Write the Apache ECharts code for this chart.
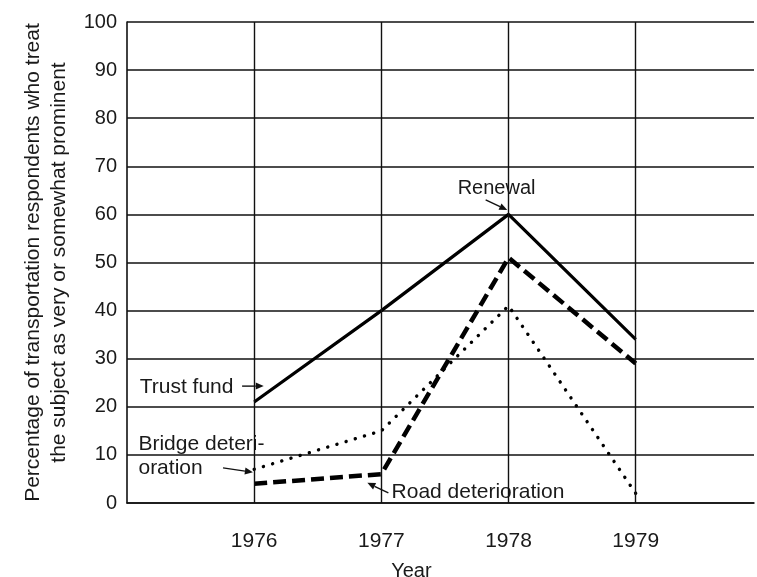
<!DOCTYPE html>
<html><head><meta charset="utf-8">
<script src="https://cdn.jsdelivr.net/npm/echarts@6/dist/echarts.min.js"></script>
<style>html,body{margin:0;padding:0;background:#fff;overflow:hidden}#c{width:757px;height:577px}</style>
</head><body><div id="c"></div>
<script>
// ---- data ----
const years = [1976, 1977, 1978, 1979];
const trustFund = [21, 40, 60, 34];
const roadDeterioration = [4, 6, 51, 29];
const bridgeDeterioration = [7, 15, 41, 2];
const yAxisTitle = ['Percentage of transportation respondents who treat', 'the subject as very or somewhat prominent'];
const xAxisTitle = 'Year';
// annotation texts anchored in data space: [text, x(year), y(value), fontSize]
const annoTexts = [
  ['Trust fund', 1975.10, 24.1, 21],
  ['Bridge deteri-\noration', 1975.09, 9.8, 21],
  ['Renewal', 1977.60, 65.3, 20],
  ['Road deterioration', 1977.08, 2.2, 21]
];
// arrows: [fromX, fromY, toX, toY] in data space
const annoArrows = [
  [1975.905, 24.3, 1976.075, 24.3],
  [1975.755, 7.3, 1975.99, 6.4],
  [1977.82, 63.0, 1977.99, 60.9],
  [1977.055, 2.1, 1976.89, 4.2]
];

const FONT = 'Liberation Sans, Arial, sans-serif';
const TXT = '#1a1a1a';
const chart = echarts.init(document.getElementById('c'), null, {renderer: 'canvas', width: 757, height: 577});
const pair = arr => years.map((y, i) => [y, arr[i]]);

chart.setOption({
  animation: false,
  backgroundColor: '#fff',
  grid: {left: 127, top: 22, bottom: 74, right: 0},
  xAxis: {
    type: 'value', min: 1975, max: 1979.93, interval: 1,
    axisLine: {show: true, lineStyle: {color: '#111', width: 1.6}},
    axisTick: {show: false},
    splitLine: {show: false},
    axisLabel: {
      margin: 28, fontSize: 21, color: TXT, fontFamily: FONT,
      formatter: v => years.indexOf(v) >= 0 ? String(v) : ''
    }
  },
  yAxis: {
    type: 'value', min: 0, max: 100, interval: 10,
    axisLine: {show: true, lineStyle: {color: '#111', width: 1.6}},
    axisTick: {show: false},
    splitLine: {show: true, lineStyle: {color: '#111', width: 1.6}},
    axisLabel: {margin: 10, fontSize: 20, color: TXT, fontFamily: FONT},
    name: yAxisTitle.join('\n'),
    nameLocation: 'middle', nameRotate: 90, nameGap: 55,
    nameTextStyle: {fontSize: 21, color: TXT, fontFamily: FONT, lineHeight: 26, align: 'center'}
  },
  series: [
    {type: 'line', data: pair(trustFund), symbol: 'none',
     lineStyle: {color: '#000', width: 3.2},
     markLine: {
       silent: true, symbol: ['none', 'none'], label: {show: false},
       lineStyle: {color: '#111', width: 1.4, type: 'solid'},
       data: years.map(y => ({xAxis: y}))
     }},
    {type: 'line', data: pair(roadDeterioration), symbol: 'none',
     lineStyle: {color: '#000', width: 4.5, type: [13, 6]}},
    {type: 'line', data: pair(bridgeDeterioration), symbol: 'none',
     lineStyle: {color: '#000', width: 3.4, type: [0.1, 9.5], cap: 'round'}}
  ]
});

function px(x, y) { return chart.convertToPixel({gridIndex: 0}, [x, y]); }
const graphics = [];
annoTexts.forEach(a => {
  const p = px(a[1], a[2]);
  graphics.push({type: 'text', x: p[0], y: p[1],
    style: {text: a[0], fill: TXT, font: a[3] + 'px ' + FONT, textAlign: 'left', textVerticalAlign: 'middle', lineHeight: 24}});
});
annoArrows.forEach(a => {
  const p1 = px(a[0], a[1]), p2 = px(a[2], a[3]);
  const ang = Math.atan2(p2[1] - p1[1], p2[0] - p1[0]);
  const L = 8, W = 3.5;
  const bx = p2[0] - L * Math.cos(ang), by = p2[1] - L * Math.sin(ang);
  graphics.push({type: 'line', shape: {x1: p1[0], y1: p1[1], x2: bx, y2: by}, style: {stroke: '#111', lineWidth: 1.4}});
  graphics.push({type: 'polygon', shape: {points: [
    [p2[0], p2[1]],
    [bx + W * Math.sin(ang), by - W * Math.cos(ang)],
    [bx - W * Math.sin(ang), by + W * Math.cos(ang)]
  ]}, style: {fill: '#111'}});
});
const pY = px(1977.236, 0);
graphics.push({type: 'text', x: pY[0], y: 571, style: {text: xAxisTitle, fill: TXT, font: '20px ' + FONT, textAlign: 'center', textVerticalAlign: 'middle'}});
chart.setOption({graphic: graphics});
</script>
</body></html>
